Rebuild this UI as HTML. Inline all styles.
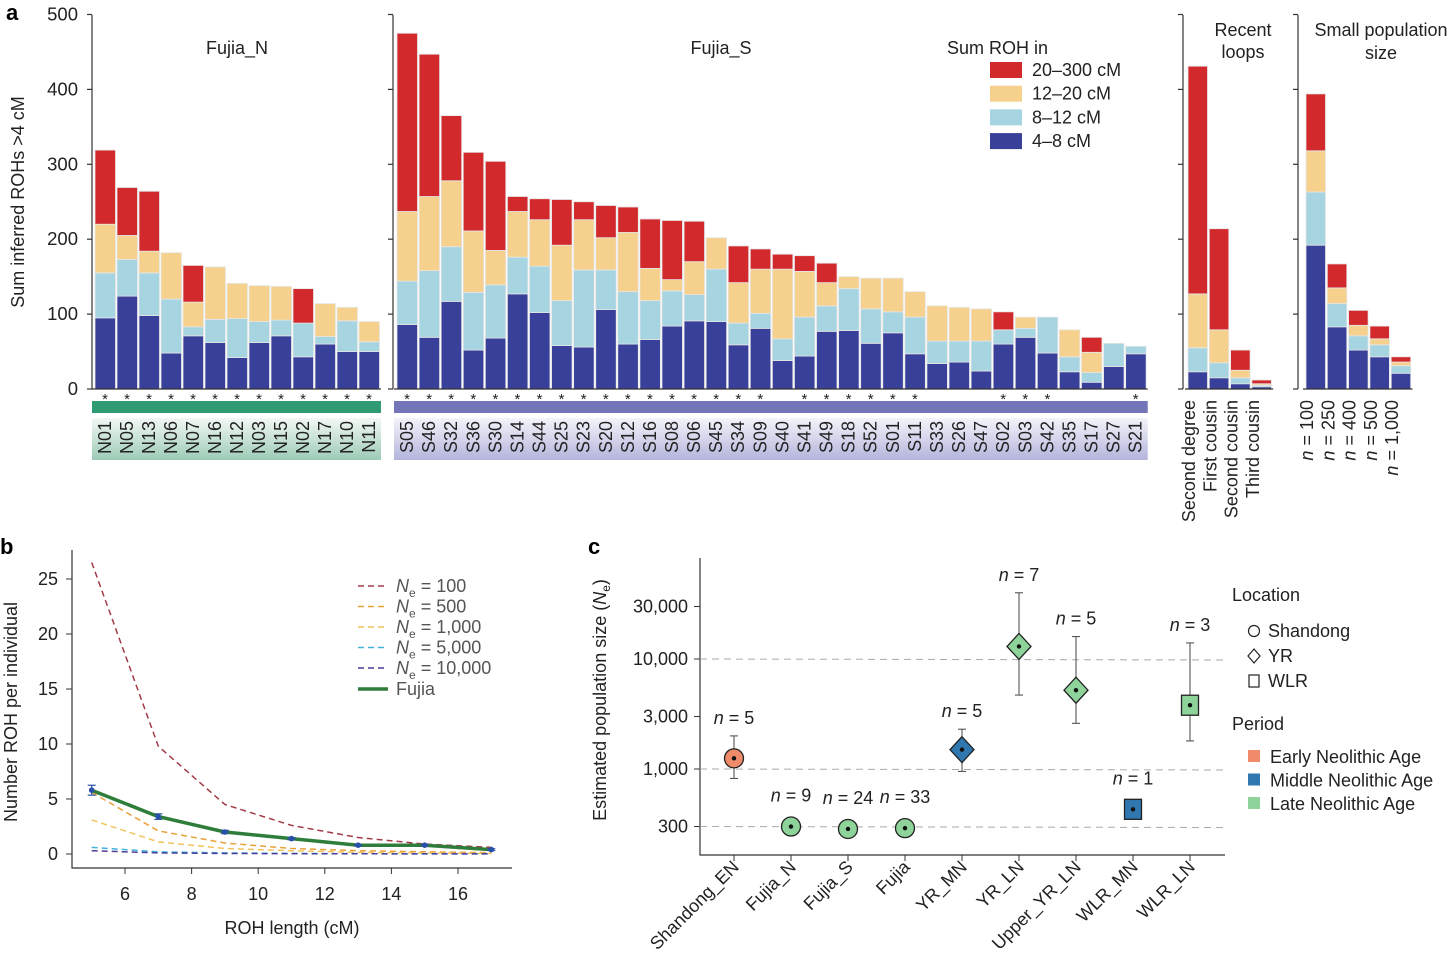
<!DOCTYPE html>
<html><head><meta charset="utf-8"><style>
html,body{margin:0;padding:0;background:#fff}
svg{display:block;font-family:"Liberation Sans",sans-serif}
</style></head><body>
<svg id="fig" width="1456" height="971" viewBox="0 0 1456 971" xmlns="http://www.w3.org/2000/svg">
<defs>
<linearGradient id="gN" x1="0" y1="0" x2="0" y2="1"><stop offset="0" stop-color="#f3f8f5"/><stop offset="1" stop-color="#9ccbb6"/></linearGradient>
<linearGradient id="gS" x1="0" y1="0" x2="0" y2="1"><stop offset="0" stop-color="#f4f4fa"/><stop offset="1" stop-color="#b4b4dc"/></linearGradient>
</defs>
<g id="A"></g>
<g id="B"></g>
<g id="C"></g>
</svg>
<script>
// ---------- Panel a data ----------
const nLabels=["N01","N05","N13","N06","N07","N16","N12","N03","N15","N02","N17","N10","N11"];
const nBlue=[95,124,98,48,71,62,42,62,71,43,60,50,50];
const nLight=[155,173,155,120,83,93,94,90,92,88,70,91,63];
const nYellow=[220,205,184,182,116,163,141,138,137,null,114,109,90];
const nRed=[319,269,264,null,165,null,null,null,null,134,null,null,null];
const nStar=[1,1,1,1,1,1,1,1,1,1,1,1,1];
const sLabels=["S05","S46","S32","S36","S30","S14","S44","S25","S23","S20","S12","S16","S08","S06","S45","S34","S09","S40","S41","S49","S18","S52","S01","S11","S33","S26","S47","S02","S03","S42","S35","S17","S27","S21"];
const sBlue=[86,69,117,52,68,127,102,58,56,106,60,66,84,91,90,59,81,38,44,77,78,61,75,47,34,36,24,60,69,48,23,9,30,47];
const sLight=[144,158,190,129,139,176,164,118,159,159,130,118,131,126,160,88,101,67,96,111,134,107,103,96,64,64,64,79,81,96,43,22,61,57];
const sYellow=[237,257,278,211,185,237,226,192,226,202,209,161,146,170,202,142,160,160,157,142,150,148,148,130,111,109,107,null,96,null,79,49,null,null];
const sRed=[475,447,365,316,304,257,254,253,250,245,243,227,225,224,null,191,187,180,178,168,null,null,null,null,null,null,null,103,null,null,null,69,null,null];
const sStar=[1,1,1,1,1,1,1,1,1,1,1,1,1,1,1,1,1,0,1,1,1,1,1,1,0,0,0,1,1,1,0,0,0,1];
const loopLabels=["Second degree","First cousin","Second cousin","Third cousin"];
const loopBlue=[23,15,7,3];
const loopLight=[55,35,15,5];
const loopYellow=[127,79,25,7];
const loopRed=[431,214,52,12];
const popLabels=["100","250","400","500","1,000"];
const popBlue=[192,83,52,43,21];
const popLight=[263,114,71,59,31];
const popYellow=[318,135,85,67,36];
const popRed=[394,167,105,84,43];
const yTicksA=[0,100,200,300,400,500];
const segNames=["20–300 cM","12–20 cM","8–12 cM","4–8 cM"];

// ---------- Panel b data ----------
const bX=[5,7,9,11,13,15,17];
const ne100=[26.5,9.8,4.5,2.6,1.5,0.9,0.6];
const ne500=[5.6,2.1,1.0,0.5,0.3,0.2,0.12];
const ne1000=[3.1,1.1,0.5,0.3,0.15,0.1,0.05];
const ne5000=[0.6,0.2,0.1,0.05,0.03,0.02,0.01];
const ne10000=[0.3,0.1,0.05,0.03,0.02,0.01,0.01];
const fujia=[5.8,3.4,2.0,1.4,0.8,0.8,0.4];
const fujiaErr=[0.45,0.25,0.15,0.1,0.08,0.08,0.08];
const bXTicks=[6,8,10,12,14,16];
const bYTicks=[0,5,10,15,20,25];

// ---------- Panel c data ----------
const cCats=["Shandong_EN","Fujia_N","Fujia_S","Fujia","YR_MN","YR_LN","Upper_YR_LN","WLR_MN","WLR_LN"];
const cVal=[1250,300,285,290,1500,13000,5200,430,3800];
const cLo=[820,265,250,255,950,4700,2600,430,1800];
const cHi=[2000,340,320,325,2300,40000,16000,430,14000];
const cN=["5","9","24","33","5","7","5","1","3"];
const cShape=["circle","circle","circle","circle","diamond","diamond","diamond","square","square"];
const cPeriod=["early","late","late","late","middle","late","late","middle","late"];
const cYTicks=[300,1000,3000,10000,30000];
const cYTickLabels=["300","1,000","3,000","10,000","30,000"];

const NS="http://www.w3.org/2000/svg";
function mk(parent,tag,attrs,txt){const e=document.createElementNS(NS,tag);for(const k in attrs)e.setAttribute(k,attrs[k]);if(txt!==undefined)e.textContent=txt;parent.appendChild(e);return e;}
const COL={red:"#d22a2c",yel:"#f6d18e",lb:"#a6d4e1",blue:"#38409a"};

// ===== Panel A =====
const A=document.getElementById('A');
const y0A=389,pxA=0.749;
function yA(v){return y0A-v*pxA;}
let t=mk(A,'text',{x:6,y:20,'font-size':22,'font-weight':'bold'},'a');

t=mk(A,'text',{transform:'translate(24,202) rotate(-90)','text-anchor':'middle','font-size':18,fill:'#222'},'Sum inferred ROHs >4 cM');


function axisA(x,withLabels,name){
  const g=mk(A,'g',{});
  
  mk(g,'line',{x1:x,y1:15,x2:x,y2:y0A,stroke:'#333','stroke-width':1.2});
  yTicksA.forEach(v=>{
    mk(g,'line',{x1:x-5,y1:yA(v),x2:x,y2:yA(v),stroke:'#333','stroke-width':1.2});
    if(withLabels){const tt=mk(g,'text',{x:x-14,y:yA(v)+6,'text-anchor':'end','font-size':18.5,fill:'#222'},String(v));
      }
  });
}
function stacks(x0,pitch,w,blue,light,yel,red,name){
  const g=mk(A,'g',{});
  
  blue.forEach((b,i)=>{
    const x=x0+i*pitch;
    const segs=[[0,b,COL.blue],[b,light[i],COL.lb]];
    let top=light[i];
    if(yel[i]!=null){segs.push([top,yel[i],COL.yel]);top=yel[i];}
    if(red[i]!=null){segs.push([top,red[i],COL.red]);}
    segs.forEach(s=>{
      const r=mk(g,'rect',{x:x,y:yA(s[1]),width:w,height:(s[1]-s[0])*pxA,fill:s[2],stroke:'#e6e6e6','stroke-width':0.8});
      
    });
  });
  mk(g,'line',{x1:x0-3,y1:y0A,x2:x0+blue.length*pitch,y2:y0A,stroke:'#333','stroke-width':1.2});
}
function labelsRow(x0,pitch,labels,stars,fillBar,grad,name){
  const g=mk(A,'g',{});
  
  const wTot=labels.length*pitch;
  const bar=mk(g,'rect',{x:x0-3,y:401,width:wTot+3,height:12,fill:fillBar});
  
  mk(g,'rect',{x:x0-3,y:418,width:wTot+3,height:42,fill:grad});
  labels.forEach((l,i)=>{
    const cx=x0+i*pitch+pitch/2-1;
    if(stars[i]){const s=mk(g,'text',{x:cx,y:404,'text-anchor':'middle','font-size':15,fill:'#222'},'*');
      }
    const tt=mk(g,'text',{transform:`translate(${cx+6},421) rotate(-90)`,'text-anchor':'end','font-size':18,fill:'#222'},l);
    
  });
}
axisA(92,true,'y-axis-a-north');
stacks(95,22,20.5,nBlue,nLight,nYellow,nRed,'bars-fujia-n');
labelsRow(95,22,nLabels,nStar,'#2e9b73','url(#gN)','labels-fujia-n');
t=mk(A,'text',{x:237,y:54,'text-anchor':'middle','font-size':18,fill:'#222'},'Fujia_N');


axisA(393,false,'y-axis-a-south');
stacks(397,22.08,20.5,sBlue,sLight,sYellow,sRed,'bars-fujia-s');
labelsRow(397,22.08,sLabels,sStar,'#7474b8','url(#gS)','labels-fujia-s');
t=mk(A,'text',{x:721,y:54,'text-anchor':'middle','font-size':18,fill:'#222'},'Fujia_S');


const lg=mk(A,'g',{});

mk(lg,'text',{x:947,y:54,'font-size':18,fill:'#222'},'Sum ROH in');
[COL.red,COL.yel,COL.lb,COL.blue].forEach((c,i)=>{
  const e=mk(lg,'g',{});
  
  mk(e,'rect',{x:990,y:62+i*23.7,width:32,height:16,fill:c});
  mk(e,'text',{x:1032,y:76+i*23.7,'font-size':18,fill:'#222'},segNames[i]);
});

function sideRot(xs,labels,name,italicN){
  const g=mk(A,'g',{});
  
  labels.forEach((l,i)=>{
    const tt=mk(g,'text',{transform:`translate(${xs+i*21.3+7},400) rotate(-90)`,'text-anchor':'end','font-size':18,fill:'#222'});
    
    if(italicN){mk(tt,'tspan',{'font-style':'italic'},'n');mk(tt,'tspan',{},' = '+l);}else tt.textContent=l;
  });
}
axisA(1183,false,'y-axis-a-loops');
stacks(1188,21.3,19.5,loopBlue,loopLight,loopYellow,loopRed,'bars-recent-loops');
sideRot(1188,loopLabels,'labels-recent-loops',false);
t=mk(A,'text',{x:1243,y:36,'text-anchor':'middle','font-size':18,fill:'#222'},'Recent');

mk(A,'text',{x:1243,y:58,'text-anchor':'middle','font-size':18,fill:'#222'},'loops');

axisA(1298,false,'y-axis-a-pop');
stacks(1306,21.3,19.5,popBlue,popLight,popYellow,popRed,'bars-small-population');
sideRot(1306,popLabels,'labels-small-population',true);
t=mk(A,'text',{x:1381,y:36,'text-anchor':'middle','font-size':18,fill:'#222'},'Small population');

mk(A,'text',{x:1381,y:59,'text-anchor':'middle','font-size':18,fill:'#222'},'size');

// ===== Panel B =====
const B=document.getElementById('B');
function xB(v){return 125+(v-6)*33.3;}
function yB(v){return 854-v*11.0;}
t=mk(B,'text',{x:0,y:554,'font-size':22,'font-weight':'bold'},'b');

mk(B,'polyline',{points:'72,550 72,868 512,868',fill:'none',stroke:'#333','stroke-width':1.2});
bXTicks.forEach(v=>{mk(B,'line',{x1:xB(v),y1:868,x2:xB(v),y2:874,stroke:'#333'});
  const tt=mk(B,'text',{x:xB(v),y:900,'text-anchor':'middle','font-size':18,fill:'#222'},String(v));
  });
bYTicks.forEach(v=>{mk(B,'line',{x1:66,y1:yB(v),x2:72,y2:yB(v),stroke:'#333'});
  const tt=mk(B,'text',{x:58,y:yB(v)+6,'text-anchor':'end','font-size':18,fill:'#222'},String(v));
  });
t=mk(B,'text',{x:292,y:934,'text-anchor':'middle','font-size':18,fill:'#222'},'ROH length (cM)');

t=mk(B,'text',{transform:'translate(17,712) rotate(-90)','text-anchor':'middle','font-size':18,fill:'#222'},'Number ROH per individual');

const bSeries=[[ne100,'#a23b48','100'],[ne500,'#e8a23a','500'],[ne1000,'#f2c35a','1,000'],[ne5000,'#43b3d9','5,000'],[ne10000,'#4a3c9a','10,000']];
bSeries.forEach((s,k)=>{
  const p=mk(B,'polyline',{points:bX.map((x,i)=>xB(x)+','+yB(s[0][i])).join(' '),fill:'none',stroke:s[1],'stroke-width':1.5,'stroke-dasharray':'6,4'});
  
  const e=mk(B,'g',{});
  
  mk(e,'line',{x1:358,y1:586+k*20.5,x2:388,y2:586+k*20.5,stroke:s[1],'stroke-width':1.5,'stroke-dasharray':'6,4'});
  const tt=mk(e,'text',{x:396,y:592+k*20.5,'font-size':18,fill:'#555'});
  mk(tt,'tspan',{'font-style':'italic'},'N');mk(tt,'tspan',{'font-size':12,dy:5},'e');mk(tt,'tspan',{dy:-5},' = '+s[2]);
});
t=mk(B,'polyline',{points:bX.map((x,i)=>xB(x)+','+yB(fujia[i])).join(' '),fill:'none',stroke:'#2e7d3a','stroke-width':3.5,'stroke-linejoin':'round'});

bX.forEach((x,i)=>{
  const g=mk(B,'g',{});
  
  const a=yB(fujia[i]+fujiaErr[i]),b=yB(fujia[i]-fujiaErr[i]);
  mk(g,'line',{x1:xB(x),y1:a,x2:xB(x),y2:b,stroke:'#2850a8','stroke-width':1.2});
  mk(g,'line',{x1:xB(x)-4,y1:a,x2:xB(x)+4,y2:a,stroke:'#2850a8','stroke-width':1.2});
  mk(g,'line',{x1:xB(x)-4,y1:b,x2:xB(x)+4,y2:b,stroke:'#2850a8','stroke-width':1.2});
  mk(g,'circle',{cx:xB(x),cy:yB(fujia[i]),r:2.8,fill:'#2850a8'});
});
t=mk(B,'g',{});

mk(t,'line',{x1:358,y1:689,x2:388,y2:689,stroke:'#2e7d3a','stroke-width':3.5});
mk(t,'text',{x:396,y:695,'font-size':18,fill:'#555'},'Fujia');

// ===== Panel C =====
const C=document.getElementById('C');
function yC(v){return 769-110*Math.log10(v/1000);}
function xC(i){return 734+i*57;}
t=mk(C,'text',{x:588,y:554,'font-size':22,'font-weight':'bold'},'c');

mk(C,'polyline',{points:'700,558 700,855 1225,855',fill:'none',stroke:'#333','stroke-width':1.2});
[10000,1000,300].forEach(v=>{const l=mk(C,'line',{x1:700,y1:yC(v),x2:1225,y2:yC(v)+1,stroke:'#aaa','stroke-dasharray':'7,5'});
  });
cYTicks.forEach((v,i)=>{mk(C,'line',{x1:694,y1:yC(v),x2:700,y2:yC(v),stroke:'#333'});
  const tt=mk(C,'text',{x:688,y:yC(v)+6,'text-anchor':'end','font-size':18,fill:'#222'},cYTickLabels[i]);
  });
t=mk(C,'text',{transform:'translate(606,700) rotate(-90)','text-anchor':'middle','font-size':18,fill:'#222'});

mk(t,'tspan',{},'Estimated population size (');mk(t,'tspan',{'font-style':'italic'},'N');mk(t,'tspan',{'font-size':12,dy:4},'e');mk(t,'tspan',{dy:-4},')');
const PC={early:'#ef8a6a',middle:'#2f77ae',late:'#8ed39a'};
cCats.forEach((c,i)=>{
  const x=xC(i),y=yC(cVal[i]);
  mk(C,'line',{x1:x,y1:855,x2:x,y2:861,stroke:'#333'});
  const lab=mk(C,'text',{transform:`translate(${x+6},868) rotate(-45)`,'text-anchor':'end','font-size':18,fill:'#222'},c);
  
  const g=mk(C,'g',{});
  
  const a=yC(cHi[i]),b=yC(cLo[i]);
  if(cHi[i]!==cLo[i]){
    mk(g,'line',{x1:x,y1:a,x2:x,y2:b,stroke:'#555','stroke-width':1.1});
    mk(g,'line',{x1:x-4,y1:a,x2:x+4,y2:a,stroke:'#555','stroke-width':1.1});
    mk(g,'line',{x1:x-4,y1:b,x2:x+4,y2:b,stroke:'#555','stroke-width':1.1});
  }
  const f=PC[cPeriod[i]];
  if(cShape[i]==='circle')mk(g,'circle',{cx:x,cy:y,r:9.5,fill:f,stroke:'#222','stroke-width':1.3});
  else if(cShape[i]==='diamond')mk(g,'polygon',{points:`${x},${y-13} ${x+12},${y} ${x},${y+13} ${x-12},${y}`,fill:f,stroke:'#222','stroke-width':1.3});
  else mk(g,'rect',{x:x-8.5,y:y-10,width:17,height:20,fill:f,stroke:'#222','stroke-width':1.3});
  mk(g,'circle',{cx:x,cy:y,r:2.2,fill:'#111'});
  const top=Math.min(a,y-13);
  const nt=mk(C,'text',{x:x,y:top-12,'text-anchor':'middle','font-size':18,fill:'#222'});
  
  mk(nt,'tspan',{'font-style':'italic'},'n');mk(nt,'tspan',{},' = '+cN[i]);
});
const lc=mk(C,'g',{});

mk(lc,'text',{x:1232,y:601,'font-size':18,fill:'#222'},'Location');
const locs=[['circle','Shandong'],['diamond','YR'],['square','WLR']];
locs.forEach((l,k)=>{
  const y=631+k*25;
  const e=mk(lc,'g',{});
  
  if(l[0]==='circle')mk(e,'circle',{cx:1254,cy:y,r:5.5,fill:'none',stroke:'#222','stroke-width':1.2});
  else if(l[0]==='diamond')mk(e,'polygon',{points:`1254,${y-7} 1260,${y} 1254,${y+7} 1248,${y}`,fill:'none',stroke:'#222','stroke-width':1.2});
  else mk(e,'rect',{x:1249,y:y-6,width:10,height:12,fill:'none',stroke:'#222','stroke-width':1.2});
  mk(e,'text',{x:1268,y:y+6,'font-size':18,fill:'#222'},l[1]);
});
mk(lc,'text',{x:1232,y:730,'font-size':18,fill:'#222'},'Period');
[['early','Early Neolithic Age'],['middle','Middle Neolithic Age'],['late','Late Neolithic Age']].forEach((p,k)=>{
  const y=757+k*23.5;
  const e=mk(lc,'g',{});
  
  mk(e,'rect',{x:1248,y:y-7,width:12,height:12,fill:PC[p[0]]});
  mk(e,'text',{x:1270,y:y+6,'font-size':18,fill:'#222'},p[1]);
});
</script>
</body></html>
